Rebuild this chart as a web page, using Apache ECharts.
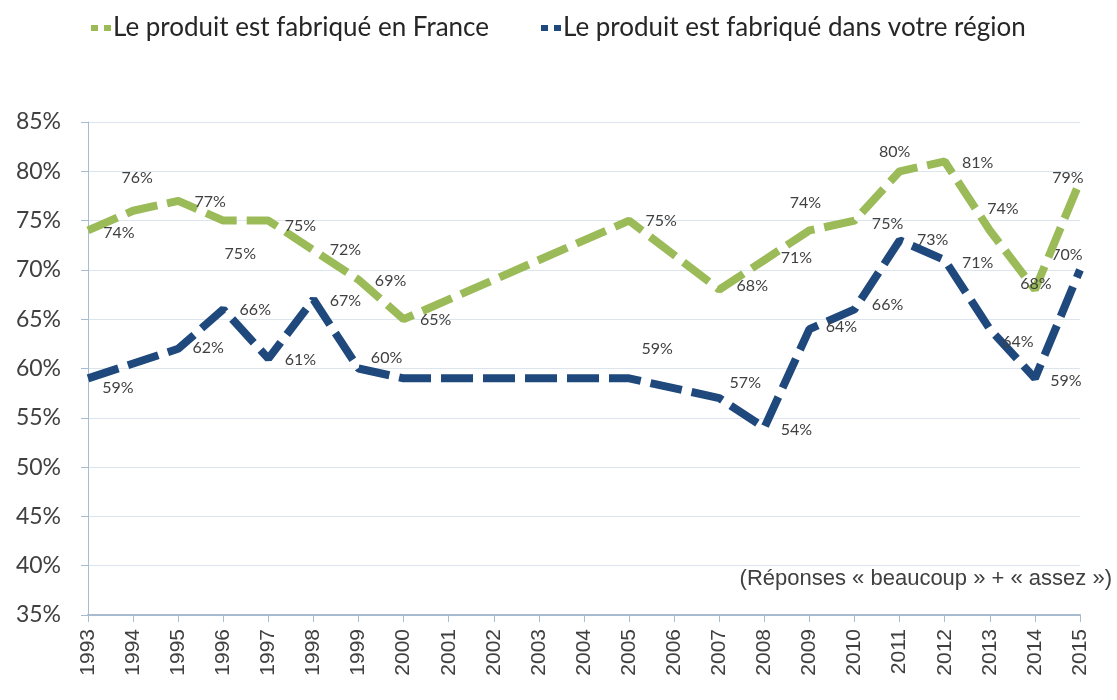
<!DOCTYPE html>
<html>
<head>
<meta charset="utf-8">
<script src="https://cdn.jsdelivr.net/npm/echarts@6/dist/echarts.min.js"></script>
<style>
  html, body { margin: 0; padding: 0; background: #fff; }
  #chart { width: 1117px; height: 700px; }
</style>
</head>
<body>
<div id="chart"></div>
<script>
var years = ['1993', '1994', '1995', '1996', '1997', '1998', '1999', '2000', '2001', '2002', '2003', '2004',
    '2005', '2006', '2007', '2008', '2009', '2010', '2011', '2012', '2013', '2014', '2015'];
var franceValues = [74, 76, 77, 75, 75, 72, 69, 65, null, null, null, null,
    75, null, 68, 71, 74, 75, 80, 81, 74, 68, 79];
var regionValues = [59, null, 62, 66, 61, 67, 60, 59, null, null, null, null,
    59, null, 57, 54, 64, 66, 73, 71, 64, 59, 70];
var yTicks = [35, 40, 45, 50, 55, 60, 65, 70, 75, 80, 85];

// décalage des étiquettes (placées à la main dans l'original), null = pas d'étiquette
var franceLabelOffset = [[31, 2], [4, -33], [32, 1], [17, 33], [32, 5], [32, 0], [32, 1], [32, 1], null, null, null, null,
    [32, 0], null, [33, -4], [32, -2], [-4, -28], [33, 3], [-5, -19], [33, 1], [13, -22], [1, -6], [-12, -3]];
var regionLabelOffset = [[30, 9], null, [30, -1], [32, 1], [32, 1], [32, 1], [28, -11], null, null, null, null, null,
    [28, -30], null, [26, -15], [32, 2], [32, -2], [33, -4], [33, 0], [33, 3], [28, 13], [31, 2], [-13, -15]];

function buildData(values, offsets) {
    return values.map(function(v, i) {
        if (v === null) return null;
        var off = offsets[i];
        return {
            value: v,
            label: off ? { show: true, offset: off } : { show: false }
        };
    });
}

var myChart = echarts.init(document.getElementById('chart'));
var labelStyle = {
    show: true,
    position: 'inside',
    formatter: '{c}%',
    color: '#404040',
    fontFamily: 'Lato',
    fontSize: 16
};
var option = {
    animation: false,
    legend: {
        left: 86,
        top: 10,
        itemGap: 52,
        itemWidth: 22,
        itemHeight: 6,
        textStyle: { fontFamily: 'Lato', fontSize: 26, color: '#262626', padding: [0, 0, 0, -4] },
        data: [
            { name: 'Le produit est fabriqué en France', icon: 'path://M0,0h7v6h-7z M13,0h7v6h-7z' },
            { name: 'Le produit est fabriqué dans votre région', icon: 'path://M0,0h7v6h-7z M13,0h7v6h-7z' }
        ]
    },
    grid: { left: 88, right: 37, top: 122, bottom: 85 },
    xAxis: {
        type: 'category',
        boundaryGap: false,
        data: years,
        axisLine: { lineStyle: { color: '#A9BBD1', width: 2 } },
        axisTick: { show: true, alignWithLabel: true, length: 7, lineStyle: { color: '#A9BBD1' } },
        axisLabel: {
            rotate: 90,
            margin: 14,
            interval: 0,
            fontFamily: 'Liberation Sans',
            fontSize: 21,
            color: '#404040'
        }
    },
    yAxis: {
        type: 'value',
        min: yTicks[0],
        max: yTicks[yTicks.length - 1],
        interval: 5,
        axisLine: { show: true, lineStyle: { color: '#A9BBD1', width: 1 } },
        axisTick: { show: true, length: 7, lineStyle: { color: '#A9BBD1' } },
        splitLine: { lineStyle: { color: '#DCE4EE', width: 1 } },
        axisLabel: {
            margin: 27,
            formatter: '{value}%',
            fontFamily: 'Lato',
            fontSize: 23,
            color: '#404040'
        }
    },
    graphic: [{
        type: 'text',
        right: 5,
        top: 568,
        style: {
            text: '(Réponses « beaucoup » + « assez »)',
            fontFamily: 'Liberation Sans',
            fontSize: 22,
            fill: '#404040'
        }
    }],
    series: [{
        name: 'Le produit est fabriqué en France',
        type: 'line',
        data: buildData(franceValues, franceLabelOffset),
        connectNulls: true,
        symbol: 'circle',
        symbolSize: 0,
        itemStyle: { color: '#9BBB59' },
        lineStyle: { color: '#9BBB59', width: 8, type: [32, 10] },
        label: labelStyle,
        z: 3
    }, {
        name: 'Le produit est fabriqué dans votre région',
        type: 'line',
        data: buildData(regionValues, regionLabelOffset),
        connectNulls: true,
        symbol: 'circle',
        symbolSize: 0,
        itemStyle: { color: '#1F497D' },
        lineStyle: { color: '#1F497D', width: 8, type: [32, 10] },
        label: labelStyle,
        z: 2
    }]
};
myChart.setOption(option);
</script>
</body>
</html>
